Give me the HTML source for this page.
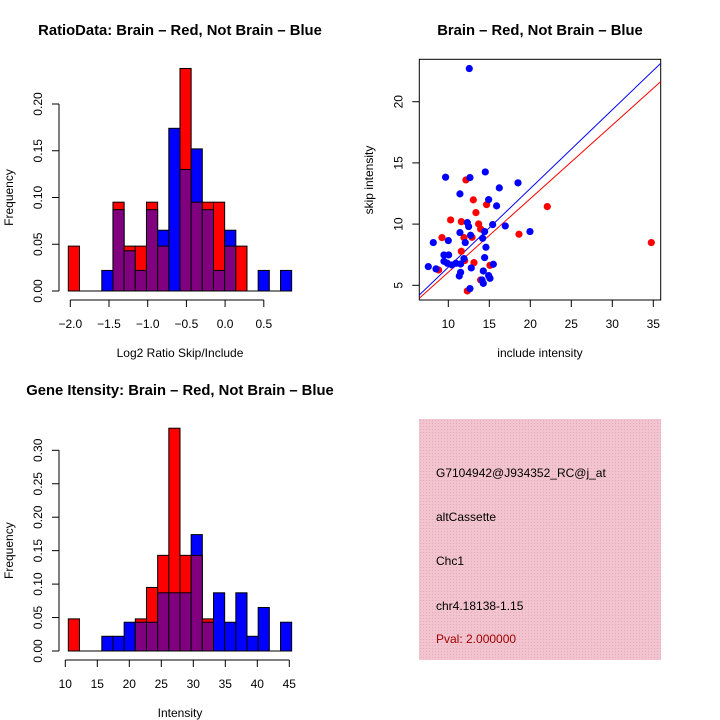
<!DOCTYPE html>
<html><head><meta charset="utf-8">
<style>
html,body{margin:0;padding:0;background:#fff;}
svg{display:block;font-family:"Liberation Sans",Arial,sans-serif;}
</style></head>
<body>
<svg id="chart" width="720" height="720" viewBox="0 0 720 720" xmlns="http://www.w3.org/2000/svg">
<defs>
<pattern id="hatch" width="3" height="3" patternUnits="userSpaceOnUse">
<rect width="3" height="3" fill="#f2c4cf"/>
<rect width="1" height="1" fill="#e6a9b9"/>
</pattern>
</defs>
<text x="180" y="35" text-anchor="middle" font-size="14.8" font-weight="bold">RatioData: Brain – Red, Not Brain – Blue</text>
<text x="540" y="35" text-anchor="middle" font-size="14.8" font-weight="bold">Brain – Red, Not Brain – Blue</text>
<text x="180" y="395" text-anchor="middle" font-size="14.8" font-weight="bold">Gene Itensity: Brain – Red, Not Brain – Blue</text>
<g>
<rect x="419" y="419" width="242" height="241" fill="url(#hatch)"/>
<text x="436" y="477" font-size="12">G7104942@J934352_RC@j_at</text>
<text x="436" y="521" font-size="12">altCassette</text>
<text x="436" y="565" font-size="12">Chc1</text>
<text x="436" y="610" font-size="12">chr4.18138-1.15</text>
<text x="436" y="643" font-size="12" fill="#a00000">Pval: 2.000000</text>
</g>
</svg>
<script>
// ---- Ratio histogram data ----
const ratioBreakStart = -2.026;
const ratioBinWidth = 0.1443;
const ratioRed  = [0.048,0,0,0,0.095,0.048,0.048,0.095,0.048,0,0.238,0.095,0.095,0.095,0.048,0.048,0,0,0,0];
const ratioBlue = [0,0,0,0.022,0.087,0.043,0.022,0.087,0.065,0.174,0.13,0.152,0.087,0.022,0.065,0,0,0.022,0,0.022];
const ratioXTicks = [-2.0,-1.5,-1.0,-0.5,0.0,0.5];
const ratioXTickLabels = ["-2.0","-1.5","-1.0","-0.5","0.0","0.5"];
const ratioYTicks = [0,0.05,0.10,0.15,0.20];
const ratioYTickLabels = ["0.00","0.05","0.10","0.15","0.20"];
// ---- Gene intensity histogram data ----
const geneBreakStart = 10.47;
const geneBinWidth = 1.745;
const geneRed  = [0.048,0,0,0,0,0,0.048,0.095,0.143,0.333,0.143,0.143,0.048,0,0,0,0,0,0,0];
const geneBlue = [0,0,0,0.022,0.022,0.043,0.043,0.043,0.087,0.087,0.087,0.174,0.043,0.087,0.043,0.087,0.022,0.065,0,0.043];
const geneXTicks = [10,15,20,25,30,35,40,45];
const geneXTickLabels = ["10","15","20","25","30","35","40","45"];
const geneYTicks = [0,0.05,0.10,0.15,0.20,0.25,0.30];
const geneYTickLabels = ["0.00","0.05","0.10","0.15","0.20","0.25","0.30"];
// ---- Scatter data ----
const blueX = [12.56,9.67,12.64,14.51,11.42,16.22,18.50,14.92,15.89,12.32,12.48,15.41,16.95,19.96,11.42,14.43,12.72,8.17,10.0,12.07,14.59,14.19,9.47,10.04,9.47,9.88,10.93,10.45,11.50,11.91,15.49,14.43,7.56,8.50,11.50,11.34,12.80,14.27,14.92,15.08,14.11,14.27,12.64];
const blueY = [22.71,13.83,13.80,14.26,12.47,12.96,13.37,12.00,11.49,10.12,9.80,9.96,9.85,9.39,9.31,9.39,9.09,8.49,8.65,8.49,8.11,8.84,7.48,7.48,6.96,6.80,6.80,6.66,6.74,7.18,6.72,7.26,6.53,6.34,6.06,5.76,6.42,6.17,5.79,5.57,5.44,5.16,4.73];
const redX = [12.15,13.05,14.67,13.37,10.28,11.59,13.70,13.94,9.23,11.91,12.89,18.62,22.07,34.76,11.59,12.0,13.13,8.82,15.08,13.94,12.32];
const redY = [13.61,11.98,11.59,10.94,10.34,10.20,10.01,9.60,8.90,8.90,8.92,9.17,11.43,8.49,7.78,7.02,6.85,6.25,6.63,5.44,4.54];
const blueFit = [0.643, 0.05];   // slope, intercept
const redFit  = [0.601, 0.06];
const scXTicks = [10,15,20,25,30,35];
const scXTickLabels = ["10","15","20","25","30","35"];
const scYTicks = [5,10,15,20];
const scYTickLabels = ["5","10","15","20"];

const svg = document.getElementById('chart');
const NS = 'http://www.w3.org/2000/svg';
function mk(tag, attrs, parent){
  const e = document.createElementNS(NS, tag);
  for (const k in attrs) e.setAttribute(k, attrs[k]);
  (parent||svg).appendChild(e);
  return e;
}

function histogram(cfg){
  const g = mk('g', {});
  
  
  const xs = v => cfg.x0px + (v - cfg.x0) * cfg.xScale;
  const ys = v => cfg.basePx - v * cfg.yScale;
  const n = cfg.red.length;
  for (let i = 0; i < n; i++){
    const l = xs(cfg.start + i*cfg.bw), r = xs(cfg.start + (i+1)*cfg.bw);
    const rv = cfg.red[i], bv = cfg.blue[i];
    const mx = Math.max(rv,bv), mn = Math.min(rv,bv);
    if (mx <= 0) continue;
    const top = mk('rect', {x:l, y:ys(mx), width:r-l, height:ys(0)-ys(mx), fill: rv>=bv?'#ff0000':'#0000ff', stroke:'#000', 'stroke-width':1}, g);
    
    
    if (mn > 0){
      const p = mk('rect', {x:l, y:ys(mn), width:r-l, height:ys(0)-ys(mn), fill:'#800080', stroke:'#000', 'stroke-width':1}, g);
      
      
    }
  }
  mk('line', {x1:xs(cfg.start), x2:xs(cfg.start+n*cfg.bw), y1:cfg.basePx, y2:cfg.basePx, stroke:'#000'}, g);
  const xa = mk('g', {}, g);
  
  
  const ax = cfg.basePx + 9;
  mk('line', {x1:xs(cfg.xTicks[0]), x2:xs(cfg.xTicks[cfg.xTicks.length-1]), y1:ax, y2:ax, stroke:'#000'}, xa);
  cfg.xTicks.forEach((t,i)=>{
    mk('line', {x1:xs(t), x2:xs(t), y1:ax, y2:ax+7, stroke:'#000'}, xa);
    const tx = mk('text', {x:xs(t), y:ax+28, 'text-anchor':'middle', 'font-size':12}, xa);
    tx.textContent = cfg.xLabels[i].replace('-', '\u2212');
  });
  const ya = mk('g', {}, g);
  
  
  const yx = cfg.yAxisPx;
  mk('line', {x1:yx, x2:yx, y1:ys(cfg.yTicks[0]), y2:ys(cfg.yTicks[cfg.yTicks.length-1]), stroke:'#000'}, ya);
  cfg.yTicks.forEach((t,i)=>{
    mk('line', {x1:yx-7, x2:yx, y1:ys(t), y2:ys(t), stroke:'#000'}, ya);
    const tx = mk('text', {x:yx-17, y:ys(t), 'text-anchor':'middle', 'font-size':12, transform:`rotate(-90 ${yx-17} ${ys(t)})`}, ya);
    tx.textContent = cfg.yLabels[i];
  });
  const xl = mk('text', {x:180, y:cfg.basePx+66, 'text-anchor':'middle', 'font-size':12}, g);
  
  
  xl.textContent = cfg.xTitle;
  const cy = (ys(0)+ys(cfg.yTicks[cfg.yTicks.length-1]))/2;
  const yl = mk('text', {x:13, y:cy, 'text-anchor':'middle', 'font-size':12, transform:`rotate(-90 13 ${cy})`}, g);
  
  
  yl.textContent = 'Frequency';
}

histogram({name:'ratio-histogram', red:ratioRed, blue:ratioBlue, start:ratioBreakStart, bw:ratioBinWidth,
  x0:-2.0, x0px:70.3, xScale:77.4, basePx:291, yScale:935, yAxisPx:59,
  xTicks:ratioXTicks, xLabels:ratioXTickLabels, yTicks:ratioYTicks, yLabels:ratioYTickLabels, xTitle:'Log2 Ratio Skip/Include'});
histogram({name:'gene-histogram', red:geneRed, blue:geneBlue, start:geneBreakStart, bw:geneBinWidth,
  x0:10, x0px:65.3, xScale:6.4, basePx:651, yScale:669, yAxisPx:59,
  xTicks:geneXTicks, xLabels:geneXTickLabels, yTicks:geneYTicks, yLabels:geneYTickLabels, xTitle:'Intensity'});

(function(){
  const g = mk('g', {});
  
  
  const L=419.3, R=660.7, T=59.3, B=300;
  const xs = v => 448.3 + (v-10)*8.2;
  const ys = v => 285.3 - (v-5)*12.24;
  const ix = px => 10 + (px-448.3)/8.2;
  const clip = mk('clipPath', {id:'scClip'}, g);
  mk('rect', {x:L, y:T, width:R-L, height:B-T}, clip);
  const box = mk('rect', {x:L, y:T, width:R-L, height:B-T, fill:'none', stroke:'#000'}, g);
  
  
  const inner = mk('g', {'clip-path':'url(#scClip)'}, g);
  [[blueFit,'#0000ff','blue-fit-line'],[redFit,'#ff0000','red-fit-line']].forEach(([f,c,n])=>{
    const a = ix(L), b = ix(R);
    const ln = mk('line', {x1:xs(a), y1:ys(f[0]*a+f[1]), x2:xs(b), y2:ys(f[0]*b+f[1]), stroke:c, 'stroke-width':1}, inner);
    
    
  });
  redX.forEach((x,i)=>{
    const c = mk('circle', {cx:xs(x), cy:ys(redY[i]), r:3.6, fill:'#ff0000'}, inner);
    
    
  });
  blueX.forEach((x,i)=>{
    const c = mk('circle', {cx:xs(x), cy:ys(blueY[i]), r:3.6, fill:'#0000ff'}, inner);
    
    
  });
  const xa = mk('g', {}, g);
  
  
  scXTicks.forEach((t,i)=>{
    mk('line', {x1:xs(t), x2:xs(t), y1:B, y2:B+7, stroke:'#000'}, xa);
    const tx = mk('text', {x:xs(t), y:B+28, 'text-anchor':'middle', 'font-size':12}, xa);
    tx.textContent = scXTickLabels[i];
  });
  const ya = mk('g', {}, g);
  
  
  scYTicks.forEach((t,i)=>{
    mk('line', {x1:L-7, x2:L, y1:ys(t), y2:ys(t), stroke:'#000'}, ya);
    const tx = mk('text', {x:L-17, y:ys(t), 'text-anchor':'middle', 'font-size':12, transform:`rotate(-90 ${L-17} ${ys(t)})`}, ya);
    tx.textContent = scYTickLabels[i];
  });
  const xl = mk('text', {x:540, y:357, 'text-anchor':'middle', 'font-size':12}, g);
  
  
  xl.textContent = 'include intensity';
  const yl = mk('text', {x:373, y:180, 'text-anchor':'middle', 'font-size':12, transform:'rotate(-90 373 180)'}, g);
  
  
  yl.textContent = 'skip intensity';
})();
</script>
</body></html>
